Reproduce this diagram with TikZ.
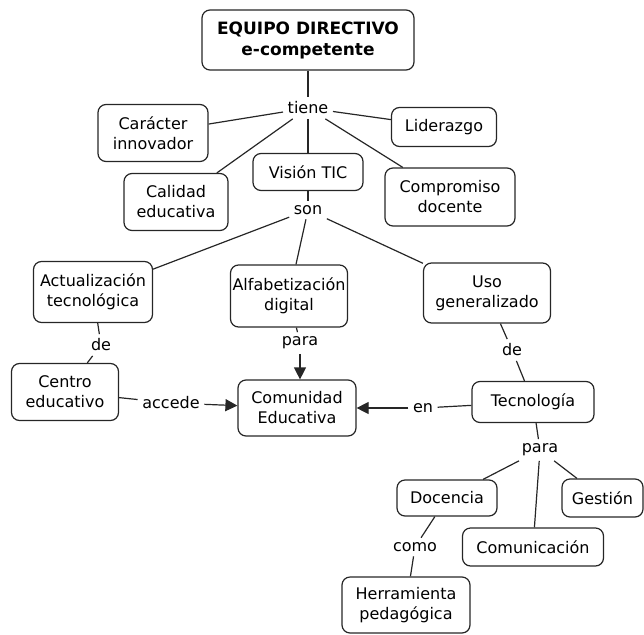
\documentclass[tikz,border=0pt]{standalone}
\usepackage{fontspec}
\setmainfont{DejaVu Sans}
\usetikzlibrary{arrows.meta}
\tikzset{
  concept/.style={draw=black!85, line width=1.2pt, rounded corners=8pt, align=center, inner sep=2pt, font=\fontsize{16}{20}\selectfont},
  linkword/.style={inner sep=4.5pt, font=\fontsize{16}{20}\selectfont},
  conn/.style={draw=black!85, line width=1.2pt},
  arr/.style={conn, -{Triangle[length=12pt,width=12pt]}}
}
\begin{document}
\begin{tikzpicture}[x=1pt,y=-1pt]
\useasboundingbox (0,0) rectangle (644,634);
% concepts
\node[concept, minimum width=212pt, minimum height=60pt, font=\fontsize{17}{21}\selectfont\bfseries] (eq) at (308,40) {EQUIPO DIRECTIVO\\e-competente};
\node[concept, minimum width=110pt, minimum height=57pt] (car) at (153,133) {Carácter\\innovador};
\node[concept, minimum width=105pt, minimum height=39pt] (lid) at (444,127) {Liderazgo};
\node[concept, minimum width=104pt, minimum height=57pt] (cal) at (176,202) {Calidad\\educativa};
\node[concept, minimum width=110pt, minimum height=37pt] (vis) at (308,172) {Visión TIC};
\node[concept, minimum width=130pt, minimum height=58pt] (com) at (450,197) {Compromiso\\docente};
\node[concept, minimum width=119pt, minimum height=61pt] (act) at (93,292) {Actualización\\tecnológica};
\node[concept, minimum width=117pt, minimum height=62pt] (alf) at (289,296) {Alfabetización\\digital};
\node[concept, minimum width=127pt, minimum height=60pt] (uso) at (487,293) {Uso\\generalizado};
\node[concept, minimum width=107pt, minimum height=57pt] (cen) at (65,392) {Centro\\educativo};
\node[concept, minimum width=118pt, minimum height=56pt] (cmd) at (297,408) {Comunidad\\Educativa};
\node[concept, minimum width=122pt, minimum height=41pt] (tec) at (533,402) {Tecnología};
\node[concept, minimum width=100pt, minimum height=36pt] (doc) at (447,498) {Docencia};
\node[concept, minimum width=81pt, minimum height=38pt] (ges) at (602.5,498) {Gestión};
\node[concept, minimum width=141pt, minimum height=38pt] (cmc) at (533,547) {Comunicación};
\node[concept, minimum width=128pt, minimum height=56pt] (her) at (406,605) {Herramienta\\pedagógica};
% linking words
\node[linkword] (tiene) at (308,108) {tiene};
\node[linkword] (son) at (308,210) {son};
\node[linkword] (de1) at (101,345) {de};
\node[linkword] (para1) at (300,343) {para};
\node[linkword] (de2) at (512,350) {de};
\node[linkword] (accede) at (171,403) {accede};
\node[linkword] (en) at (423,408) {en};
\node[linkword] (para2) at (540,450) {para};
\node[linkword] (como) at (415,547) {como};
% connectors
\draw[conn] (eq) -- (tiene);
\draw[conn] (tiene) -- (car);
\draw[conn] (tiene) -- (lid);
\draw[conn] (tiene) -- (cal);
\draw[conn] (tiene) -- (vis);
\draw[conn] (tiene) -- (com);
\draw[conn] (vis) -- (son);
\draw[conn] (son) -- (act);
\draw[conn] (son) -- (alf);
\draw[conn] (son) -- (uso);
\draw[conn] (act) -- (de1);
\draw[conn] (de1) -- (cen);
\draw[conn] (alf) -- (para1);
\draw[arr] (para1) -- (para1 |- cmd.north);
\draw[conn] (uso) -- (de2);
\draw[conn] (de2) -- (tec);
\draw[conn] (cen) -- (accede);
\draw[arr] (accede) -- (cmd);
\draw[conn] (tec) -- (en);
\draw[arr] (en) -- (cmd);
\draw[conn] (tec) -- (para2);
\draw[conn] (para2) -- (doc);
\draw[conn] (para2) -- (cmc);
\draw[conn] (para2) -- (ges);
\draw[conn] (doc) -- (como);
\draw[conn] (como) -- (her);
\end{tikzpicture}
\end{document}
